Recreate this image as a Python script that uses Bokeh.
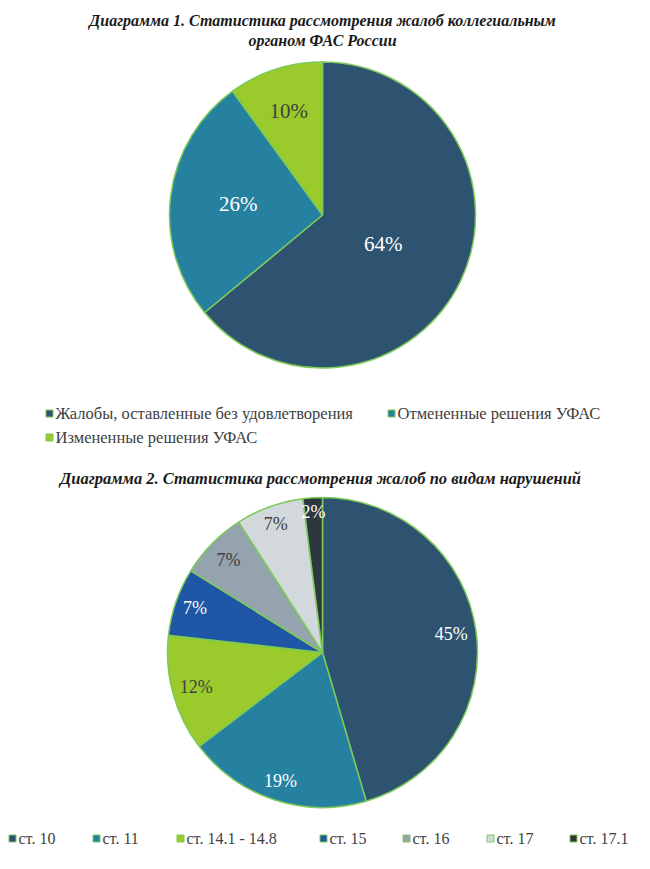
from bokeh.plotting import figure
from bokeh.models import Range1d
from bokeh.embed import file_html
from bokeh.resources import INLINE
from bokeh.core.properties import value
import numpy as np

# ---- data ----
title1 = ["Диаграмма 1. Статистика рассмотрения жалоб коллегиальным", "органом ФАС России"]
cats1 = ["Жалобы, оставленные без удовлетворения", "Отмененные решения УФАС", "Измененные решения УФАС"]
vals1 = [64, 26, 10]
colors1 = ["#2E5370", "#26809F", "#9ACA2B"]
labcol1 = ["white", "white", "#404040"]

title2 = "Диаграмма 2. Статистика рассмотрения жалоб по видам нарушений"
cats2 = ["ст. 10", "ст. 11", "ст. 14.1 - 14.8", "ст. 15", "ст. 16", "ст. 17", "ст. 17.1"]
vals2 = [45, 19, 12, 7, 7, 7, 2]
colors2 = ["#2E5370", "#26809F", "#9ACA2B", "#1F56A5", "#95A3AE", "#D3D8DD", "#2E3640"]
labcol2 = ["white", "white", "#404040", "white", "#404040", "#404040", "white"]

FONT = value("Liberation Serif")
EDGE = "#7CC95A"
H = 869

p = figure(width=634, height=853, x_range=Range1d(0, 634), y_range=Range1d(16, 869),
           output_backend="svg", toolbar_location=None, min_border=0)
p.axis.visible = False
p.grid.visible = False
p.outline_line_color = None
p.background_fill_color = "white"


def pie(vals, colors, labcols, cx, cy, r, lab_r, fsize):
    v = np.array(vals, dtype=float)
    frac = v / v.sum()
    cum = np.concatenate([[0], np.cumsum(frac)])
    starts = np.pi / 2 - cum[:-1] * 2 * np.pi
    ends = np.pi / 2 - cum[1:] * 2 * np.pi
    p.wedge(x=cx, y=cy, radius=r, start_angle=list(starts), end_angle=list(ends),
            direction="clock", fill_color=colors, line_color=EDGE, line_width=1.5)
    mids = (starts + ends) / 2
    lr = np.array(lab_r)
    xs = cx + lr * np.cos(mids)
    ys = cy + lr * np.sin(mids)
    labels = [f"{int(x)}%" for x in vals]
    p.text(x=list(xs), y=list(ys), text=labels, text_color=labcols, text_font=FONT,
           text_font_size=fsize, text_align="center", text_baseline="middle")


# Pie 1
pie(vals1, colors1, labcol1, 322, H - 214.5, 153, [67, 85, 109], "21px")
# Pie 2
pie(vals2, colors2, labcol2, 322, H - 652, 155, [130, 135, 131, 135, 132, 137, 141], "18px")

# Titles
p.text(x=[322, 322], y=[H - 20, H - 40], text=title1, text_font=FONT, text_font_size="16px",
       text_font_style="bold italic", text_align="center", text_baseline="middle", text_color="#1a1a1a")
p.text(x=[320], y=[H - 478], text=[title2], text_font=FONT, text_font_size="16.5px",
       text_font_style="bold italic", text_align="center", text_baseline="middle", text_color="#1a1a1a")

# Legend 1
lx1 = [49, 391, 49]
ly1 = [H - 413, H - 413, H - 437]
p.rect(x=lx1, y=ly1, width=7, height=7, fill_color=colors1, line_color=EDGE, line_width=1)
p.text(x=[x + 6 for x in lx1], y=ly1, text=cats1, text_font=FONT, text_font_size="16.5px",
       text_align="left", text_baseline="middle", text_color="#404040")

# Legend 2
lx2 = [12, 96, 180, 323, 406, 490, 573]
ly2 = [H - 838] * 7
p.rect(x=lx2, y=ly2, width=7, height=7, fill_color=colors2, line_color=EDGE, line_width=1)
p.text(x=[x + 6 for x in lx2], y=ly2, text=cats2, text_font=FONT, text_font_size="16px",
       text_align="left", text_baseline="middle", text_color="#404040")

open("out.html", "w").write(file_html(p, INLINE))
